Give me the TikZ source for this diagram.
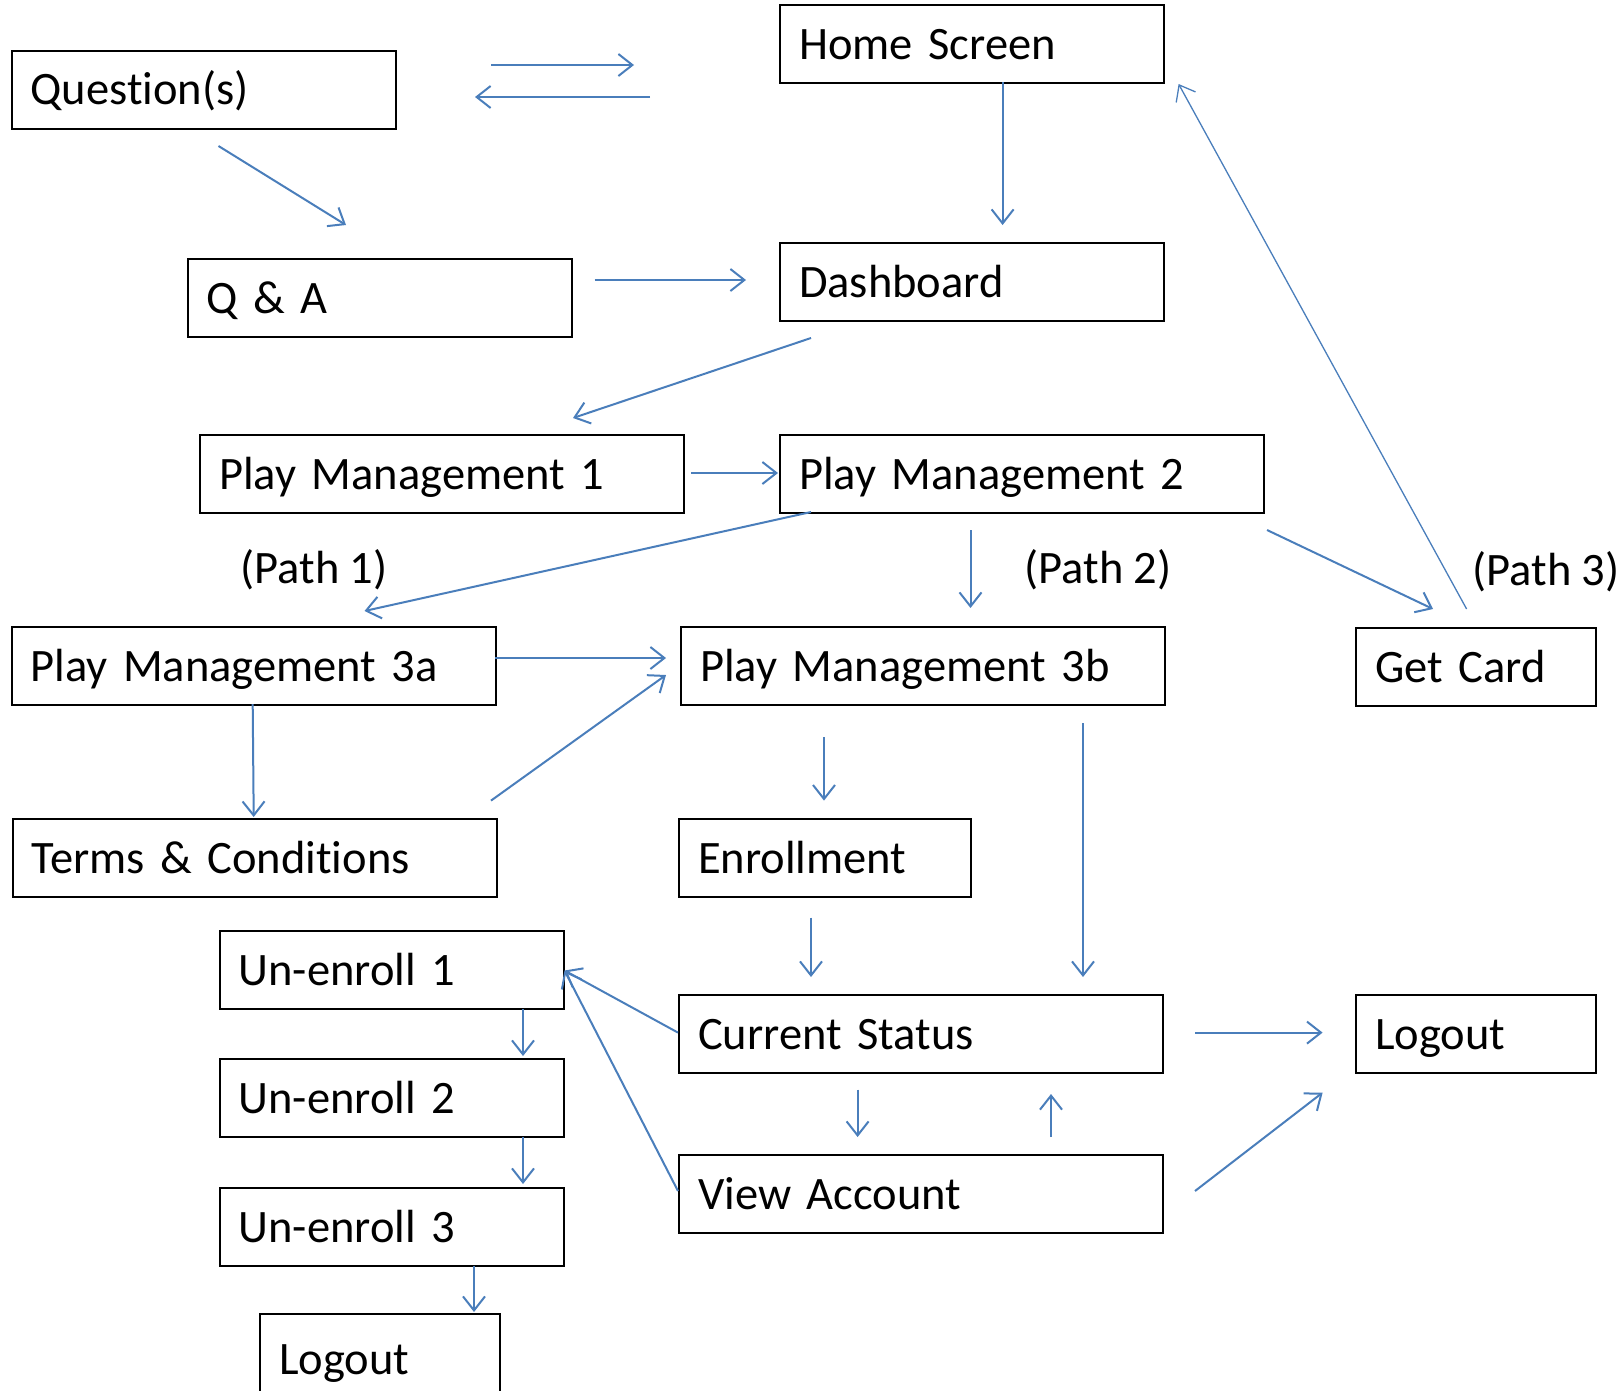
\documentclass[tikz,border=0pt]{standalone}
\usepackage{fontspec}
\setmainfont{Carlito}[Ligatures=NoCommon]
\usetikzlibrary{arrows.meta}
\definecolor{ln}{HTML}{4A7EBB}
\tikzset{
  box/.style={draw=black, line width=2.2pt, anchor=north west, rectangle,
    inner xsep=19pt, inner ysep=0pt, align=left,
    font=\fontsize{46.5}{56}\selectfont, text height=30pt, text depth=0pt},
  conn/.style={draw=ln, line width=2pt, -{Straight Barb[length=14pt,width=22pt]}},
  thin conn/.style={conn, line width=1.3pt},
  lbl/.style={font=\fontsize{46.5}{56}\selectfont, inner sep=0pt}
}
\newcommand{\bx}[6]{\node[box, minimum width=#4pt, minimum height=#5pt, text width=#4pt-38pt] (#1) at (#2,#3) {#6};}
\begin{document}
\begin{tikzpicture}[x=1pt,y=-1pt]
\useasboundingbox (0,0) rectangle (1624,1390);
\clip (0,0) rectangle (1624,1390);
% boxes
\bx{ques}{10.5}{49.5}{384}{78}{Question(s)}
\bx{home}{779}{4}{384}{78}{Home Screen}
\bx{qa}{186.5}{258}{384}{78}{Q \& A}
\bx{dash}{779}{242}{384}{78}{Dashboard}
\bx{pmone}{199}{434}{484}{78}{Play Management 1}
\bx{pmtwo}{779}{434}{484}{78}{Play Management 2}
\bx{pmthreea}{10.5}{626}{484}{78}{Play Management 3a}
\bx{pmthreeb}{680}{626}{484}{78}{Play Management 3b}
\bx{card}{1355}{627}{240}{78}{Get Card}
\bx{terms}{11.5}{818}{484}{78}{Terms \& Conditions}
\bx{enroll}{678}{818}{292}{78}{Enrollment}
\bx{unone}{218.5}{930}{344}{78}{Un-enroll 1}
\bx{untwo}{218.5}{1058}{344}{78}{Un-enroll 2}
\bx{unthree}{218.5}{1187}{344}{78}{Un-enroll 3}
\bx{cur}{678}{994}{484}{78}{Current Status}
\bx{view}{678}{1154}{484}{78}{View Account}
\bx{logoutr}{1355}{994}{240}{78}{Logout}
\node[box, minimum width=240pt, minimum height=84pt, text width=202pt, text height=36pt] (logoutb) at (259,1313) {Logout};
% labels
\node[lbl] (pathone) at (314,570) {(Path 1)};
\node[lbl] (pathtwo) at (1098,570) {(Path 2)};
\node[lbl] (paththree) at (1546,572) {(Path 3)};
% connector end points
\coordinate (a1s) at (491,65);   \coordinate (a1e) at (634,65);
\coordinate (a2s) at (650,97);   \coordinate (a2e) at (475,97);
\coordinate (a3s) at (218.5,146); \coordinate (a3e) at (346,225);
\coordinate (a4s) at (1002.6,82); \coordinate (a4e) at (1002.6,225);
\coordinate (a5s) at (594.5,280); \coordinate (a5e) at (746,280);
\coordinate (a6s) at (811,338);  \coordinate (a6e) at (573,418);
\coordinate (a7s) at (691,473);  \coordinate (a7e) at (778,473);
\coordinate (a8s) at (811,512);  \coordinate (a8e) at (364.5,611);
\coordinate (a9s) at (970.5,530); \coordinate (a9e) at (970.5,608);
\coordinate (a10s) at (1267,530); \coordinate (a10e) at (1433,609);
\coordinate (a11s) at (1466.6,609); \coordinate (a11e) at (1178.6,84);
\coordinate (a12s) at (495,658); \coordinate (a12e) at (666,658);
\coordinate (a13s) at (252.7,704); \coordinate (a13e) at (253.7,817);
\coordinate (a14s) at (491,800.6); \coordinate (a14e) at (666,675);
\coordinate (a15s) at (824,737); \coordinate (a15e) at (824,800.6);
\coordinate (a16s) at (1083,723); \coordinate (a16e) at (1083,977);
\coordinate (a17s) at (811,917.6); \coordinate (a17e) at (811,977);
\coordinate (a18s) at (678,1032.6); \coordinate (a18e) at (564.5,970.5);
\coordinate (a19s) at (678,1191); \coordinate (a19e) at (564.5,970.5);
\coordinate (a20s) at (523,1009); \coordinate (a20e) at (523,1056);
\coordinate (a21s) at (523,1137); \coordinate (a21e) at (523,1184);
\coordinate (a22s) at (474,1265.6); \coordinate (a22e) at (474,1312);
\coordinate (a23s) at (1195,1032.6); \coordinate (a23e) at (1322.6,1032.6);
\coordinate (a24s) at (857.6,1089.6); \coordinate (a24e) at (857.6,1137);
\coordinate (a25s) at (1051,1137); \coordinate (a25e) at (1051,1094);
\coordinate (a26s) at (1195,1191); \coordinate (a26e) at (1322.6,1092.6);
% connectors
\draw[conn] (a1s) -- (a1e);
\draw[conn] (a2s) -- (a2e);
\draw[conn] (a3s) -- (a3e);
\draw[conn] (a4s) -- (a4e);
\draw[conn] (a5s) -- (a5e);
\draw[conn] (a6s) -- (a6e);
\draw[conn] (a7s) -- (a7e);
\draw[conn] (a8s) -- (a8e);
\draw[conn] (a9s) -- (a9e);
\draw[conn] (a10s) -- (a10e);
\draw[thin conn] (a11s) -- (a11e);
\draw[conn] (a12s) -- (a12e);
\draw[conn] (a13s) -- (a13e);
\draw[conn] (a14s) -- (a14e);
\draw[conn] (a15s) -- (a15e);
\draw[conn] (a16s) -- (a16e);
\draw[conn] (a17s) -- (a17e);
\draw[conn] (a18s) -- (a18e);
\draw[conn] (a19s) -- (a19e);
\draw[conn] (a20s) -- (a20e);
\draw[conn] (a21s) -- (a21e);
\draw[conn] (a22s) -- (a22e);
\draw[conn] (a23s) -- (a23e);
\draw[conn] (a24s) -- (a24e);
\draw[conn] (a25s) -- (a25e);
\draw[conn] (a26s) -- (a26e);
\end{tikzpicture}
\end{document}
